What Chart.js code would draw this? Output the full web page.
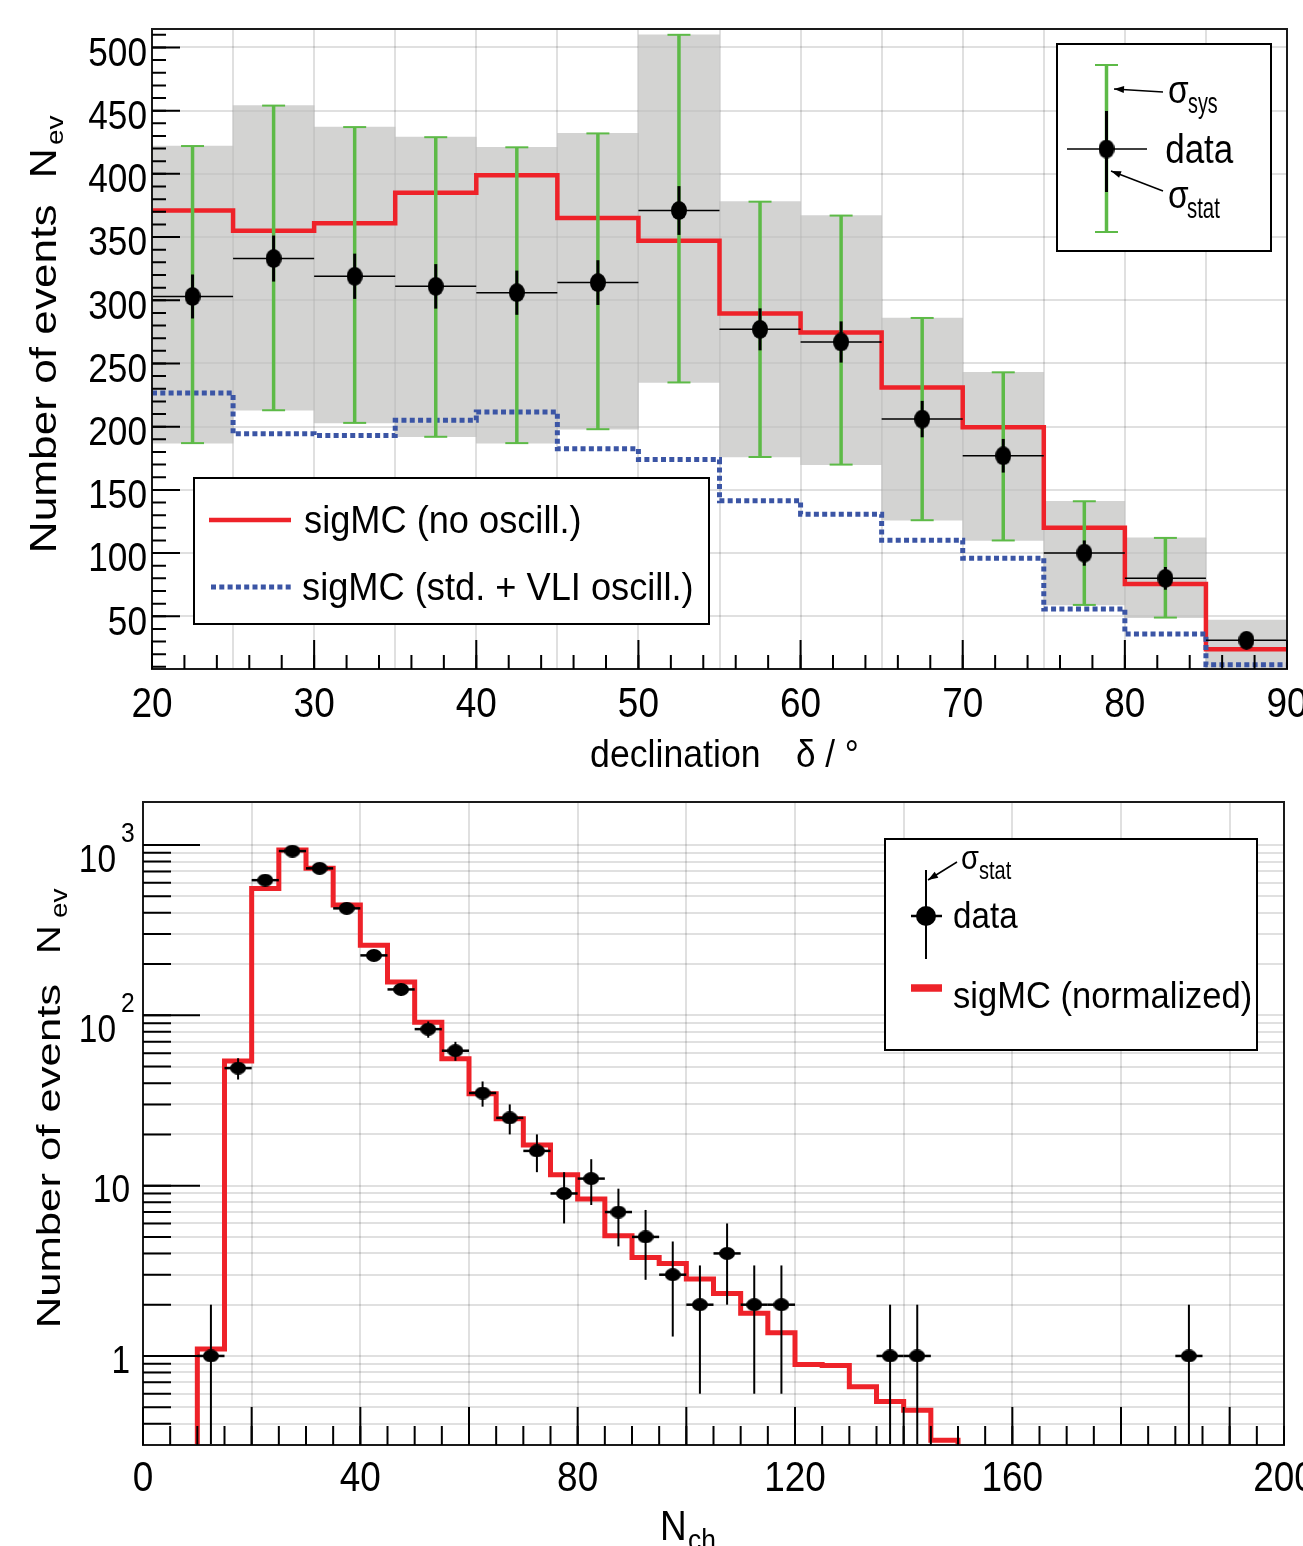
<!DOCTYPE html>
<html lang="en">
<head>
<meta charset="utf-8">
<title>Declination and Nch distributions</title>
<script src="https://cdn.jsdelivr.net/npm/chart.js@4.4.1/dist/chart.umd.min.js"></script>
<style>
    html, body { margin: 0; padding: 0; background: #fff; overflow: hidden; }
    .panel { position: absolute; left: 0; width: 1303px; }
    #decPanel { top: 0; height: 780px; }
    #nchPanel { top: 780px; height: 766px; }
</style>
</head>
<body>
<div class="panel" id="decPanel"><canvas id="decChart"></canvas></div>
<div class="panel" id="nchPanel"><canvas id="nchChart"></canvas></div>
<script>
// ---- upper panel: declination, 5 degree bins ----
const decEdges = [20, 25, 30, 35, 40, 45, 50, 55, 60, 65, 70, 75, 80, 85, 90];
const decCenters = [22.5, 27.5, 32.5, 37.5, 42.5, 47.5, 52.5, 57.5, 62.5, 67.5, 72.5, 77.5, 82.5, 87.5];
const decData = [303, 333, 319, 311, 306, 314, 371, 277, 267, 206, 177, 100, 80, 31];
const decStat = [17.4, 18.2, 17.9, 17.6, 17.5, 17.7, 19.3, 16.6, 16.3, 14.4, 13.3, 10, 9, 5.6];
const decSysLo = [187, 213, 203, 192, 187, 198, 235, 176, 170, 126, 110, 59, 49, 0];
const decSysHi = [422, 454, 437, 429, 421, 432, 510, 378, 367, 286, 243, 141, 112, 47];
const decMcNoOsc = [371, 355, 361, 385, 399, 365, 347, 289.5, 274.5, 231, 199.5, 120, 75.6, 24];
const decMcVli = [226.6, 194.4, 193, 205, 211.6, 182.6, 174, 141.4, 130.8, 110.2, 96, 55.8, 36, 11.7];
const decXLabels = ['20', '30', '40', '50', '60', '70', '80', '90'];
const decXLabelAt = [20, 30, 40, 50, 60, 70, 80, 90];
const decYTicks = [50, 100, 150, 200, 250, 300, 350, 400, 450, 500];
const decYMin = 8.3;
const decYMax = 514.6;

// ---- lower panel: Nch, 5 channel bins ----
const nchCenters = [12.5, 17.5, 22.5, 27.5, 32.5, 37.5, 42.5, 47.5, 52.5, 57.5, 62.5, 67.5, 72.5,
    77.5, 82.5, 87.5, 92.5, 97.5, 102.5, 107.5, 112.5, 117.5, 137.5, 142.5, 192.5];
const nchData = [1, 49, 622, 922, 730, 425, 225, 142, 83, 62, 35, 25, 16, 9, 11, 7, 5, 3, 2, 4, 2, 2, 1, 1, 1];
const nchStat = [1, 7, 25, 30.4, 27, 20.6, 15, 11.9, 9.1, 7.9, 5.9, 5, 4, 3, 3.3, 2.6, 2.2, 1.7, 1.4, 2, 1.4, 1.4, 1, 1, 1];
const nchMcEdges = [10, 15, 20, 25, 30, 35, 40, 45, 50, 55, 60, 65, 70, 75, 80, 85, 90, 95, 100,
    105, 110, 115, 120, 125, 130, 135, 140, 145, 150];
const nchMc = [1.1, 54, 556, 935, 730, 444, 258, 157, 91, 55.6, 34.6, 24.7, 17.3, 11.6, 8.35, 5.08,
    3.79, 3.49, 2.83, 2.33, 1.78, 1.37, 0.89, 0.88, 0.66, 0.54, 0.48, 0.32];
const nchXGrid = [0, 20, 40, 60, 80, 100, 120, 140, 160, 180, 200];
const nchXLabels = ['0', '40', '80', '120', '160', '200'];
const nchXLabelAt = [0, 40, 80, 120, 160, 210]; // last label sits at the axis end, as in the figure
const nchYLabels = ['1', '10', '10^2', '10^3'];
const nchYLabelAt = [1, 10, 100, 1000];
const nchYMin = 0.3;
const nchYMax = 1790;

const RED = '#ee2229';
const BLUE = '#3b55a5';
const GREEN = '#5dba47';
const BAND = 'rgba(190,190,188,0.68)';
const GRID = 'rgba(0,0,0,0.12)';
const FONT = '"Liberation Sans", Arial, sans-serif';

// ROOT style log grid: 2..9 in every decade
const logGrid = [];
for (let d = 0.1; d <= 1000; d *= 10) {
    for (let k = 1; k <= 9; k++) {
        const v = +(k * d).toPrecision(3);
        if (v > nchYMin && v < nchYMax) logGrid.push(v);
    }
}

const ellipseMarker = (w, h) => {
    const c = document.createElement('canvas');
    c.width = w;
    c.height = h;
    const g = c.getContext('2d');
    g.fillStyle = '#000';
    g.beginPath();
    g.ellipse(w / 2, h / 2, w / 2, h / 2, 0, 0, 2 * Math.PI);
    g.fill();
    return c;
};
const decMarker = ellipseMarker(16, 19);
const nchMarker = ellipseMarker(16, 13);
const nchLegendMarker = ellipseMarker(20, 20);

// narrow helvetica look: squeeze the glyphs horizontally
const text = (ctx, str, x, y, size, sx, align, rotate) => {
    ctx.save();
    ctx.font = `${size}px ${FONT}`;
    ctx.fillStyle = '#000';
    ctx.textAlign = align || 'left';
    ctx.textBaseline = 'alphabetic';
    ctx.translate(x, y);
    ctx.scale(sx, 1);
    if (rotate) ctx.rotate(-Math.PI / 2);
    ctx.fillText(str, 0, 0);
    ctx.restore();
};

// stretch a string so its ink covers inkLen pixels, starting at (x, y)
const fitText = (ctx, str, x, y, size, inkLen, hs, rotate) => {
    ctx.save();
    ctx.font = `${size}px ${FONT}`;
    ctx.fillStyle = '#000';
    ctx.textAlign = 'left';
    ctx.textBaseline = 'alphabetic';
    const m = ctx.measureText(str);
    const k = inkLen / (m.actualBoundingBoxLeft + m.actualBoundingBoxRight);
    ctx.translate(x, y);
    if (rotate) ctx.rotate(-Math.PI / 2);
    ctx.scale(k, hs);
    ctx.fillText(str, m.actualBoundingBoxLeft, 0);
    ctx.restore();
};

const line = (ctx, x1, y1, x2, y2, color, width, dash) => {
    ctx.save();
    ctx.strokeStyle = color;
    ctx.lineWidth = width;
    ctx.setLineDash(dash || []);
    ctx.beginPath();
    ctx.moveTo(x1, y1);
    ctx.lineTo(x2, y2);
    ctx.stroke();
    ctx.restore();
};

const arrow = (ctx, x1, y1, x2, y2) => {
    line(ctx, x1, y1, x2, y2, '#000', 1.5);
    const ang = Math.atan2(y2 - y1, x2 - x1);
    ctx.save();
    ctx.translate(x2, y2);
    ctx.rotate(ang);
    ctx.beginPath();
    ctx.moveTo(0, 0);
    ctx.lineTo(-10, -3.5);
    ctx.lineTo(-10, 3.5);
    ctx.closePath();
    ctx.fillStyle = '#000';
    ctx.fill();
    ctx.restore();
};

const box = (ctx, x, y, w, h) => {
    ctx.save();
    ctx.fillStyle = '#fff';
    ctx.fillRect(x, y, w, h);
    ctx.strokeStyle = '#000';
    ctx.lineWidth = 2;
    ctx.strokeRect(x, y, w, h);
    ctx.restore();
};

// tick marks are drawn inward from the axis
const drawTicks = (chart, axis, values, len) => {
    const { ctx, chartArea: a } = chart;
    const s = chart.scales[axis];
    ctx.save();
    ctx.strokeStyle = '#000';
    ctx.lineWidth = 2;
    ctx.beginPath();
    values.forEach((v) => {
        const p = s.getPixelForValue(v);
        if (axis === 'x') {
            ctx.moveTo(p, a.bottom);
            ctx.lineTo(p, a.bottom - len);
        } else {
            ctx.moveTo(a.left, p);
            ctx.lineTo(a.left + len, p);
        }
    });
    ctx.stroke();
    ctx.restore();
};

const drawFrame = (chart) => {
    const { ctx, chartArea: a } = chart;
    ctx.save();
    ctx.strokeStyle = '#1a1a1a';
    ctx.lineWidth = 2;
    ctx.strokeRect(a.left, a.top, a.right - a.left, a.bottom - a.top);
    ctx.restore();
};

const stepPoints = (edges, values) => {
    const pts = values.map((v, i) => ({ x: edges[i], y: v }));
    pts.push({ x: edges[edges.length - 1], y: values[values.length - 1] });
    return pts;
};

const baseScale = (min, max, grid, type) => ({
    type: type || 'linear',
    min: min,
    max: max,
    offset: false,
    afterBuildTicks: (scale) => {
        scale.ticks = grid.map((v) => ({ value: v }));
    },
    ticks: { display: false },
    grid: { color: GRID, lineWidth: 2, drawTicks: false, offset: false },
    border: { display: false },
});

// ---------------- upper panel ----------------
const decErrorBars = {
    id: 'decErrorBars',
    beforeDatasetDraw(chart, args) {
        if (args.index !== 0) return;
        const { ctx, chartArea: a, scales: { x, y } } = chart;
        ctx.save();
        ctx.beginPath();
        ctx.rect(a.left, a.top, a.right - a.left, a.bottom - a.top);
        ctx.clip();
        decCenters.forEach((c, i) => {
            const px = x.getPixelForValue(c);
            const py = y.getPixelForValue(decData[i]);
            line(ctx, x.getPixelForValue(decEdges[i]), py, x.getPixelForValue(decEdges[i + 1]), py, '#000', 1.5);
            // systematic bar only where the band stays inside the axis range
            if (decSysLo[i] > decYMin) {
                const hi = y.getPixelForValue(decSysHi[i]);
                const lo = y.getPixelForValue(decSysLo[i]);
                line(ctx, px, hi, px, lo, GREEN, 3.5);
                line(ctx, px - 11.5, hi, px + 11.5, hi, GREEN, 2);
                line(ctx, px - 11.5, lo, px + 11.5, lo, GREEN, 2);
            }
            line(ctx, px, y.getPixelForValue(decData[i] + decStat[i]), px,
                y.getPixelForValue(decData[i] - decStat[i]), '#000', 3);
        });
        ctx.restore();
    },
};

const decDecor = {
    id: 'decDecor',
    afterDraw(chart) {
        const { ctx, scales: { x, y } } = chart;
        drawFrame(chart);

        const xMinor = [];
        for (let v = 20; v <= 90; v += 2) xMinor.push(v);
        const yMinor = [];
        for (let v = 10; v <= 510; v += 10) yMinor.push(v);
        drawTicks(chart, 'x', xMinor, 14);
        drawTicks(chart, 'x', decXLabelAt, 29);
        drawTicks(chart, 'y', yMinor, 14);
        drawTicks(chart, 'y', decYTicks, 28);

        decYTicks.forEach((v) => {
            text(ctx, String(v), 147, y.getPixelForValue(v) + 18.3, 40, 0.88, 'right');
        });
        decXLabels.forEach((lab, i) => {
            text(ctx, lab, x.getPixelForValue(decXLabelAt[i]), 717, 42, 0.88, 'center');
        });

        // axis titles
        fitText(ctx, 'declination', 591, 767, 39, 168, 1);
        text(ctx, 'δ / °', 796, 767, 39, 0.9);
        fitText(ctx, 'Number of events', 56, 550, 41, 345, 0.88, true);
        text(ctx, 'N', 56, 178, 41, 0.88, 'left', true);
        text(ctx, 'ev', 63, 145, 28, 0.88, 'left', true);

        // legend: MC curves
        box(ctx, 194, 478, 515, 146);
        line(ctx, 209, 520, 291, 520, RED, 4.5);
        line(ctx, 211, 587, 291, 587, BLUE, 5, [5, 3.3]);
        fitText(ctx, 'sigMC (no oscill.)', 305, 533, 38, 275, 1);
        fitText(ctx, 'sigMC (std. + VLI oscill.)', 303, 600, 38, 389, 1);

        // legend: data point with both errors
        box(ctx, 1057, 44, 214, 207);
        line(ctx, 1106.5, 65, 1106.5, 232, GREEN, 3.5);
        line(ctx, 1095, 65, 1118, 65, GREEN, 2);
        line(ctx, 1095, 232, 1118, 232, GREEN, 2);
        line(ctx, 1106.5, 111, 1106.5, 192, '#000', 3);
        line(ctx, 1067, 149, 1147, 149, '#000', 1.5);
        ctx.drawImage(decMarker, 1106.5 - 8, 149 - 9.5);
        text(ctx, 'σ', 1168, 103, 38, 0.88);
        text(ctx, 'sys', 1188, 113, 30, 0.66);
        fitText(ctx, 'data', 1166, 163, 41, 67.5, 1);
        text(ctx, 'σ', 1168, 208, 38, 0.88);
        text(ctx, 'stat', 1187, 218, 30, 0.68);
        arrow(ctx, 1163, 92, 1114, 89);
        arrow(ctx, 1163, 191, 1111, 171);
    },
};

new Chart(document.getElementById('decChart'), {
    type: 'scatter',
    data: {
        datasets: [
            {
                type: 'scatter',
                label: 'data',
                data: decCenters.map((c, i) => ({ x: c, y: decData[i] })),
                pointStyle: decMarker,
                pointRadius: 9,
                order: 1,
            },
            {
                type: 'line',
                label: 'sigMC (std. + VLI oscill.)',
                data: stepPoints(decEdges, decMcVli),
                stepped: true,
                borderColor: BLUE,
                borderWidth: 5,
                borderDash: [5, 3.3],
                pointRadius: 0,
                fill: false,
                order: 2,
            },
            {
                type: 'line',
                label: 'sigMC (no oscill.)',
                data: stepPoints(decEdges, decMcNoOsc),
                stepped: true,
                borderColor: RED,
                borderWidth: 4.5,
                pointRadius: 0,
                fill: false,
                order: 3,
            },
            {
                type: 'bar',
                label: 'sys band',
                data: decCenters.map((c, i) => ({ x: c, y: [decSysLo[i], decSysHi[i]] })),
                backgroundColor: BAND,
                borderWidth: 0,
                barPercentage: 1,
                categoryPercentage: 1,
                order: 4,
            },
        ],
    },
    options: {
        responsive: true,
        maintainAspectRatio: false,
        animation: false,
        events: [],
        layout: { padding: { left: 152, right: 16, top: 29, bottom: 111 } },
        plugins: { legend: { display: false }, tooltip: { enabled: false } },
        scales: {
            x: baseScale(20, 90, decEdges),
            y: baseScale(decYMin, decYMax, decYTicks),
        },
    },
    plugins: [decErrorBars, decDecor],
});

// ---------------- lower panel ----------------
const nchErrorBars = {
    id: 'nchErrorBars',
    beforeDatasetDraw(chart, args) {
        if (args.index !== 0) return;
        const { ctx, chartArea: a, scales: { x, y } } = chart;
        ctx.save();
        ctx.beginPath();
        ctx.rect(a.left, a.top, a.right - a.left, a.bottom - a.top);
        ctx.clip();
        nchCenters.forEach((c, i) => {
            const px = x.getPixelForValue(c);
            const py = y.getPixelForValue(nchData[i]);
            line(ctx, x.getPixelForValue(c - 2.5), py, x.getPixelForValue(c + 2.5), py, '#000', 2.5);
            const lo = nchData[i] - nchStat[i];
            const pLo = lo > nchYMin ? y.getPixelForValue(lo) : a.bottom;
            line(ctx, px, y.getPixelForValue(nchData[i] + nchStat[i]), px, pLo, '#000', 2);
        });
        ctx.restore();
    },
};

const nchDecor = {
    id: 'nchDecor',
    afterDraw(chart) {
        const { ctx, scales: { x, y } } = chart;
        drawFrame(chart);

        const xMinor = [];
        for (let v = 0; v <= 210; v += 5) xMinor.push(v);
        drawTicks(chart, 'x', xMinor, 19);
        drawTicks(chart, 'x', nchXGrid, 38);
        drawTicks(chart, 'y', logGrid, 28);
        drawTicks(chart, 'y', nchYLabelAt, 57);

        nchXLabels.forEach((lab, i) => {
            text(ctx, lab, x.getPixelForValue(nchXLabelAt[i]), 711, 42, 0.88, 'center');
        });
        nchYLabels.forEach((lab, i) => {
            const py = y.getPixelForValue(nchYLabelAt[i]);
            const [base, exp] = lab.split('^');
            if (exp) {
                text(ctx, base, 116, py + 27, 38, 0.88, 'right');
                text(ctx, exp, 121, py - 3, 28, 0.88);
            } else {
                text(ctx, base, 130, py + 16.6, 38, 0.88, 'right');
            }
        });

        // axis titles
        text(ctx, 'N', 660, 760, 42, 0.88);
        text(ctx, 'ch', 688, 770, 30, 0.88);
        fitText(ctx, 'Number of events', 60, 545, 40, 340, 0.85, true);
        text(ctx, 'N', 60, 174, 40, 0.85, 'left', true);
        text(ctx, 'ev', 67, 138, 28, 0.85, 'left', true);

        // legend
        box(ctx, 885, 59, 372, 211);
        line(ctx, 926, 90, 926, 179, '#000', 2);
        line(ctx, 911, 136, 942, 136, '#000', 2.5);
        ctx.drawImage(nchLegendMarker, 926 - 10, 136 - 10);
        text(ctx, 'σ', 961, 89, 33, 0.88);
        text(ctx, 'stat', 979, 99, 25, 0.8);
        arrow(ctx, 957, 82, 928, 100);
        fitText(ctx, 'data', 954, 148, 37, 64, 1);
        line(ctx, 911, 208, 942, 208, RED, 7.5);
        fitText(ctx, 'sigMC (normalized)', 954, 228, 37, 297, 1);
    },
};

// empty outer bins drop to the axis floor
const nchMcPoints = [{ x: nchMcEdges[0], y: nchYMin }]
    .concat(nchMc.map((v, i) => ({ x: nchMcEdges[i], y: v })))
    .concat([{ x: nchMcEdges[nchMcEdges.length - 1], y: nchYMin }]);

new Chart(document.getElementById('nchChart'), {
    type: 'scatter',
    data: {
        datasets: [
            {
                type: 'scatter',
                label: 'data',
                data: nchCenters.map((c, i) => ({ x: c, y: nchData[i] })),
                pointStyle: nchMarker,
                pointRadius: 8,
                order: 1,
            },
            {
                type: 'line',
                label: 'sigMC (normalized)',
                data: nchMcPoints,
                stepped: true,
                borderColor: RED,
                borderWidth: 5,
                pointRadius: 0,
                fill: false,
                order: 2,
            },
        ],
    },
    options: {
        responsive: true,
        maintainAspectRatio: false,
        animation: false,
        events: [],
        layout: { padding: { left: 143, right: 19, top: 22, bottom: 101 } },
        plugins: { legend: { display: false }, tooltip: { enabled: false } },
        scales: {
            x: baseScale(0, 210, nchXGrid),
            y: baseScale(nchYMin, nchYMax, logGrid, 'logarithmic'),
        },
    },
    plugins: [nchErrorBars, nchDecor],
});
</script>
</body>
</html>
